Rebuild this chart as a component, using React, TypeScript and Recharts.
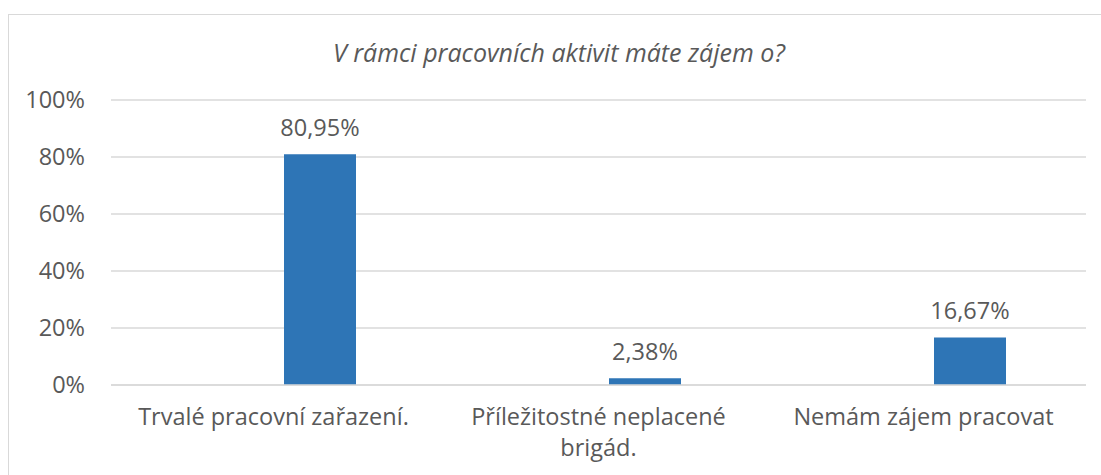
import React from 'react';
import { BarChart, Bar, XAxis, YAxis, CartesianGrid, LabelList } from 'recharts';

const categories = ['Trvalé pracovní zařazení.', 'Příležitostné neplacené brigád.', 'Nemám zájem pracovat'];
const shares = [80.95, 2.38, 16.67];
const yTicks = [0, 20, 40, 60, 80, 100];

const chartTitle = 'V rámci pracovních aktivit máte zájem o?';

const data = categories.map((name, i) => ({ name, value: shares[i], spacer: null }));

const FONT = '"Open Sans", sans-serif';
const GRAY = '#595959';
const FS = 23.5;

// wrap category names the way Excel does for this column width
const wrap = (s: string, max = 26) => {
  const lines: string[] = [];
  let cur = '';
  s.split(' ').forEach((w) => {
    const next = cur ? `${cur} ${w}` : w;
    if (next.length > max && cur) {
      lines.push(cur);
      cur = w;
    } else cur = next;
  });
  if (cur) lines.push(cur);
  return lines;
};

const CategoryTick = ({ x, y, payload }: any) => (
  <text x={x} y={y} textAnchor="middle" fill={GRAY} fontSize={FS} fontFamily={FONT}>
    {wrap(payload.value).map((line, i) => (
      <tspan key={i} x={x} dy={i === 0 ? '0.71em' : 31}>
        {line}
      </tspan>
    ))}
  </text>
);

export default function App() {
  return (
    <div style={{ position: 'absolute', left: 0, top: 0, width: 1101, height: 475, background: '#fff', overflow: 'hidden' }}>
      {/* chart frame */}
      <div
        style={{
          position: 'absolute',
          left: 8,
          top: 14,
          width: 1110,
          height: 480,
          border: '1.5px solid #d9d9d9',
          boxSizing: 'border-box',
        }}
      />
      <div
        style={{
          position: 'absolute',
          left: 8,
          width: 1102,
          top: 35,
          textAlign: 'center',
          fontFamily: FONT,
          fontStyle: 'italic',
          fontSize: 25,
          lineHeight: '34px',
          color: GRAY,
        }}
      >
        {chartTitle}
      </div>
      <div style={{ position: 'absolute', left: 0, top: 0 }}>
        <BarChart
          width={1101}
          height={475}
          data={data}
          margin={{ top: 100, right: 15, bottom: 0, left: 0 }}
          barGap={20}
        >
          <CartesianGrid vertical={false} stroke="#d9d9d9" strokeWidth={1.5} />
          <XAxis
            dataKey="name"
            height={90}
            tickLine={false}
            tickSize={0}
            tickMargin={23}
            axisLine={{ stroke: '#d9d9d9', strokeWidth: 1.5 }}
            tick={<CategoryTick />}
            interval={0}
          />
          <YAxis
            width={111}
            domain={[0, 100]}
            ticks={yTicks}
            tickFormatter={(v: number) => `${v}%`}
            axisLine={false}
            tickLine={false}
            tickSize={0}
            tickMargin={26}
            tick={{ fill: GRAY, fontSize: FS, fontFamily: FONT }}
          />
          <Bar dataKey="spacer" barSize={72} fill="none" isAnimationActive={false} />
          <Bar dataKey="value" barSize={72} fill="#2E75B6" isAnimationActive={false}>
            <LabelList
              dataKey="value"
              position="top"
              offset={18}
              formatter={(v: number) => `${v.toFixed(2).replace('.', ',')}%`}
              fill={GRAY}
              fontSize={FS}
              fontFamily={FONT}
            />
          </Bar>
        </BarChart>
      </div>
    </div>
  );
}
